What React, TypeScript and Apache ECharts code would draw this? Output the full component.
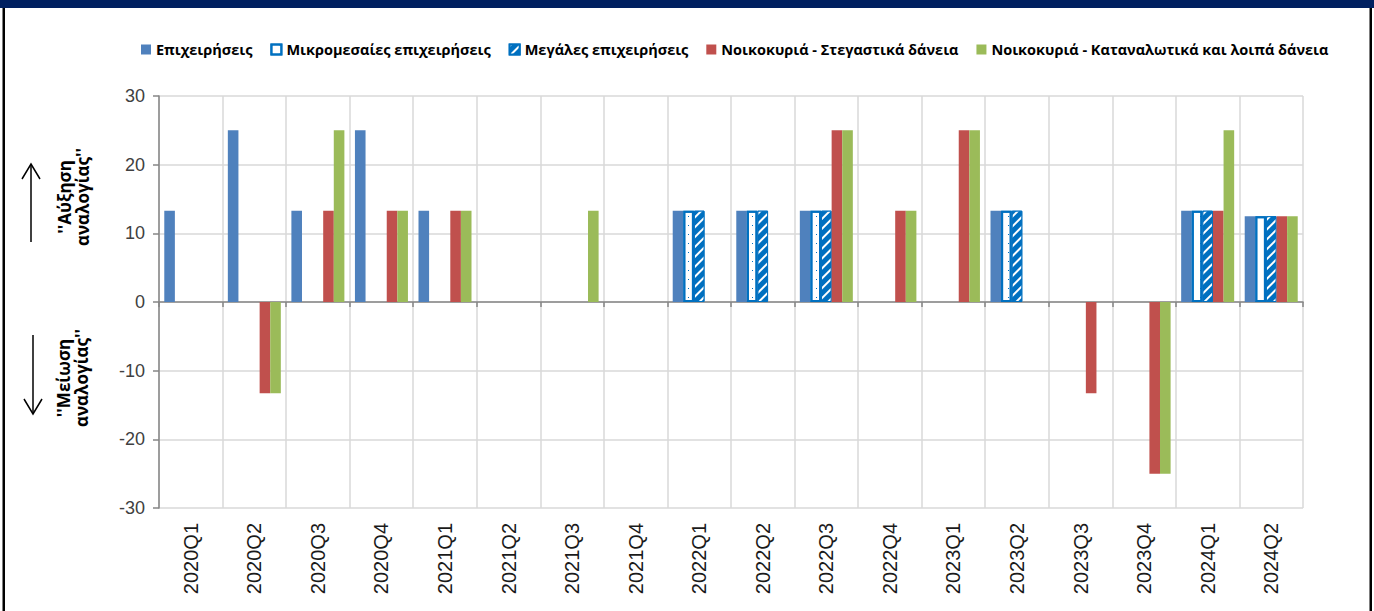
import React, { useEffect, useRef } from "react";
import * as echarts from "echarts";

const categories = [
  "2020Q1", "2020Q2", "2020Q3", "2020Q4",
  "2021Q1", "2021Q2", "2021Q3", "2021Q4",
  "2022Q1", "2022Q2", "2022Q3", "2022Q4",
  "2023Q1", "2023Q2", "2023Q3", "2023Q4",
  "2024Q1", "2024Q2",
];

const seriesNames = [
  "Επιχειρήσεις",
  "Μικρομεσαίες επιχειρήσεις",
  "Μεγάλες επιχειρήσεις",
  "Νοικοκυριά - Στεγαστικά δάνεια",
  "Νοικοκυριά - Καταναλωτικά και λοιπά δάνεια",
];

const businesses = [13.3, 25, 13.3, 25, 13.3, 0, 0, 0, 13.3, 13.3, 13.3, 0, 0, 13.3, 0, 0, 13.3, 12.5];
const smallMedium = [null, null, null, null, null, null, null, null, 13.3, 13.3, 13.3, 0, 0, 13.3, 0, 0, 13.3, 12.5];
const large = [null, null, null, null, null, null, null, null, 13.3, 13.3, 13.3, 0, 0, 13.3, 0, 0, 13.3, 12.5];
const housing = [0, -13.3, 13.3, 13.3, 13.3, 0, 0, 0, 0, 0, 25, 13.3, 25, 0, -13.3, -25, 13.3, 12.5];
const consumer = [0, -13.3, 25, 13.3, 13.3, 0, 13.3, 0, 0, 0, 25, 13.3, 25, 0, 0, -25, 25, 12.5];

const yTicks = { min: -30, max: 30, interval: 10 };
const yTitleUp = "''Αύξηση\nαναλογίας''";
const yTitleDown = "''Μείωση\nαναλογίας''";

export default function App() {
  const ref = useRef<HTMLDivElement>(null);

  useEffect(() => {
    if (!ref.current) return;
    const chart = echarts.init(ref.current, null, { renderer: "svg" });
    const barW = 10.6;
    const mk = (name: string, data: any[], itemStyle: any) => ({
      name,
      type: "bar",
      data: data.map((v) => (v === 0 ? null : v)),
      barWidth: barW,
      barGap: "0%",
      itemStyle,
      emphasis: { disabled: true },
    });
    chart.setOption({
      animation: false,
      backgroundColor: "#ffffff",
      textStyle: { fontFamily: "Liberation Sans" },
      graphic: [
        { type: "rect", shape: { x: 0, y: 0, width: 1374, height: 8 }, style: { fill: "#002060" }, silent: true },
        { type: "rect", shape: { x: 2.5, y: 8, width: 2.5, height: 603 }, style: { fill: "#000" }, silent: true },
        { type: "rect", shape: { x: 1369.5, y: 8, width: 2.5, height: 603 }, style: { fill: "#000" }, silent: true },
        {
          type: "text", x: 73, y: 197, rotation: Math.PI / 2,
          style: { text: yTitleUp, font: "bold 17px 'Open Sans'", fill: "#000", align: "center", verticalAlign: "middle", lineHeight: 18 },
        },
        {
          type: "text", x: 72, y: 378, rotation: Math.PI / 2,
          style: { text: yTitleDown, font: "bold 17px 'Open Sans'", fill: "#000", align: "center", verticalAlign: "middle", lineHeight: 18 },
        },
        { type: "line", shape: { x1: 31, y1: 242, x2: 31, y2: 164 }, style: { stroke: "#000", lineWidth: 1.5 } },
        { type: "polyline", shape: { points: [[22, 179], [31, 164], [40, 179]] }, style: { stroke: "#000", lineWidth: 1.5, fill: null } },
        { type: "line", shape: { x1: 33, y1: 335, x2: 33, y2: 414 }, style: { stroke: "#000", lineWidth: 1.5 } },
        { type: "polyline", shape: { points: [[24, 399], [33, 414], [42, 399]] }, style: { stroke: "#000", lineWidth: 1.5, fill: null } },
      ],
      legend: {
        left: 136,
        top: 37,
        itemWidth: 10,
        itemHeight: 10,
        itemGap: 18,
        icon: "rect",
        textStyle: { fontFamily: "Open Sans", fontWeight: "bold", fontSize: 14.5, color: "#000" },
        data: seriesNames,
      },
      grid: { left: 159, right: 71, top: 96, bottom: 103, containLabel: false },
      xAxis: [
        {
          type: "category",
          data: categories,
          position: "bottom",
          axisLine: { onZero: true, lineStyle: { color: "#868686", width: 1.5 } },
          axisTick: { show: true, length: 5, interval: 0, lineStyle: { color: "#868686", width: 1.5 } },
          axisLabel: { show: false },
          splitLine: { show: true, interval: 0, lineStyle: { color: "#D9D9D9", width: 1.5 } },
        },
        {
          type: "category",
          data: categories,
          position: "bottom",
          axisLine: { show: false, onZero: false },
          axisTick: { show: false },
          splitLine: { show: false },
          axisLabel: { show: true, interval: 0, rotate: 90, fontSize: 20, margin: 15, color: "#1a1a1a", fontFamily: "Liberation Sans" },
        },
      ],
      yAxis: {
        type: "value",
        min: yTicks.min,
        max: yTicks.max,
        interval: yTicks.interval,
        axisLine: { show: true, lineStyle: { color: "#868686", width: 1.5 } },
        axisTick: { show: true, length: 6, lineStyle: { color: "#868686", width: 1.5 } },
        axisLabel: { fontSize: 18, color: "#404040", margin: 14, fontFamily: "Liberation Sans" },
        splitLine: { show: true, lineStyle: { color: "#D9D9D9", width: 1.5 } },
      },
      series: [
        mk(seriesNames[0], businesses, { color: "#4F81BD" }),
        mk(seriesNames[1], smallMedium, {
          color: "#ffffff", borderColor: "#0070C0", borderWidth: 2,
          decal: { symbol: "rect", color: "#0070C0", dashArrayX: [1, 7], dashArrayY: [1, 8], symbolSize: 1 },
        }),
        mk(seriesNames[2], large, {
          color: "#0070C0", borderColor: "#0070C0", borderWidth: 1,
          decal: { symbol: "rect", color: "#ffffff", dashArrayX: [1, 0], dashArrayY: [2, 5], rotation: -Math.PI / 4 },
        }),
        mk(seriesNames[3], housing, { color: "#C0504D" }),
        mk(seriesNames[4], consumer, { color: "#9BBB59" }),
      ],
    });
    return () => chart.dispose();
  }, []);

  return <div ref={ref} style={{ position: "absolute", left: 0, top: 0, width: 1374, height: 611 }} />;
}
